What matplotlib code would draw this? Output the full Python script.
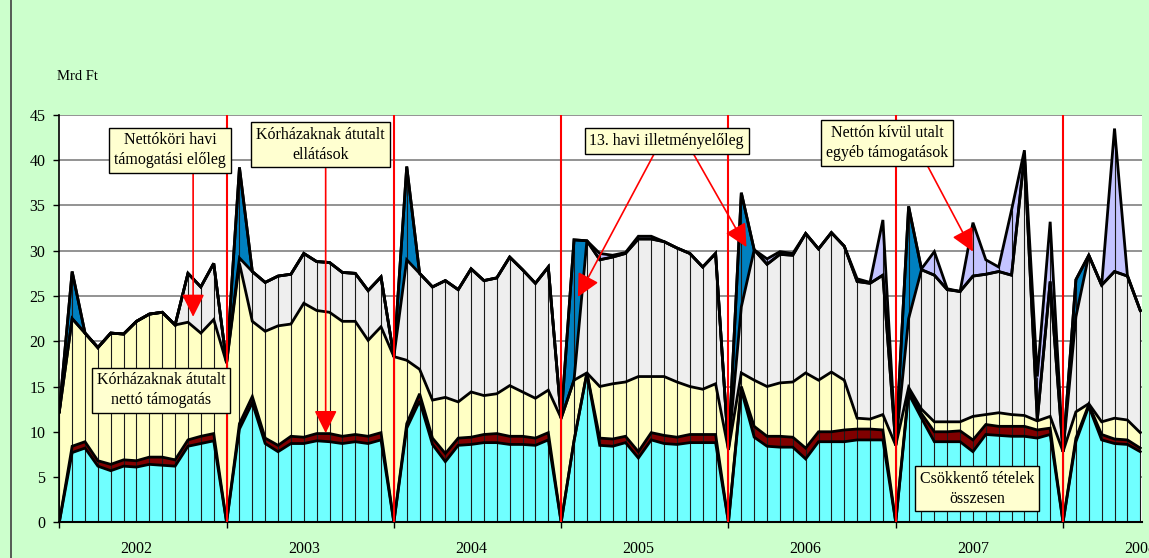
import numpy as np
import matplotlib
matplotlib.use('Agg')
from matplotlib import pyplot as plt
from matplotlib.lines import Line2D

plt.rcParams['font.family'] = ['Liberation Serif', 'DejaVu Serif']

# 13 points per year (opening point + 12 months), 2008 only partly
years = ['2002', '2003', '2004', '2005', '2006', '2007', '2008']

# Csökkentő tételek összesen
csokkento = [0, 7.7, 8.2, 6.2, 5.7, 6.2, 6.1, 6.4, 6.3, 6.2, 8.4, 8.7, 9.0,
             0, 10.3, 13.2, 8.7, 7.8, 8.7, 8.7, 9.0, 8.9, 8.7, 8.9, 8.7, 9.1,
             0, 10.4, 13.4, 8.6, 6.7, 8.5, 8.6, 8.8, 8.8, 8.6, 8.6, 8.5, 9.1,
             0, 9.0, 16.5, 8.5, 8.4, 8.8, 7.1, 9.1, 8.7, 8.6, 8.8, 8.8, 8.8,
             0, 14.6, 9.4, 8.4, 8.3, 8.3, 7.0, 8.9, 8.9, 8.9, 9.1, 9.1, 9.1,
             0, 14.2, 11.5, 8.9, 8.9, 8.9, 7.8, 9.7, 9.6, 9.5, 9.5, 9.3, 9.7,
             0, 8.9, 12.8, 9.1, 8.7, 8.6, 7.8]
# Kórházaknak átutalt ellátások
ellatasok = [0, 0.7, 0.7, 0.6, 0.7, 0.7, 0.7, 0.8, 0.9, 0.7, 0.7, 0.8, 0.8,
             0, 0.6, 0.7, 0.6, 0.7, 0.8, 0.7, 0.8, 0.9, 0.8, 0.8, 0.8, 0.8,
             0, 0.5, 0.8, 0.7, 0.9, 0.8, 0.8, 0.9, 1.0, 0.9, 0.9, 0.8, 0.8,
             0, 0, 0, 0.8, 0.8, 0.7, 0.7, 0.8, 0.9, 0.8, 0.9, 0.9, 0.9,
             0, 0.4, 1.2, 1.1, 1.2, 1.1, 1.2, 1.1, 1.1, 1.3, 1.2, 1.2, 1.1,
             0, 0.4, 0.5, 1.1, 1.1, 1.2, 1.3, 1.1, 1.0, 1.1, 1.1, 0.9, 0.7,
             0, 0.4, 0.2, 0.6, 0.5, 0.5, 0.4]
# Kórházaknak átutalt nettó támogatás
netto = [12.2, 14.1, 12.0, 12.5, 14.5, 13.9, 15.4, 15.8, 16.0, 14.9, 13.0, 11.4, 12.6,
         17.6, 17.7, 8.3, 11.8, 13.2, 12.4, 14.8, 13.6, 13.4, 12.7, 12.5, 10.6, 11.7,
         18.3, 7.0, 2.7, 4.2, 6.2, 4.0, 5.0, 4.3, 4.4, 5.6, 4.9, 4.4, 4.7,
         11.5, 6.7, 0, 5.7, 6.1, 6.0, 8.3, 6.2, 6.5, 6.1, 5.3, 5.0, 5.6,
         8.0, 1.5, 5.1, 5.5, 5.9, 6.1, 8.3, 5.7, 6.6, 5.5, 1.2, 1.1, 1.7,
         8.5, 0.3, 0.5, 1.1, 1.1, 1.0, 2.6, 1.1, 1.5, 1.3, 1.2, 1.0, 1.3,
         7.8, 2.9, 0.1, 1.4, 2.3, 2.2, 1.7]
# Nettókori havi támogatási előleg
eloleg = [0, 0, 0, 0, 0, 0, 0, 0, 0, 0, 5.4, 5.1, 6.2,
          0, 0.6, 5.5, 5.4, 5.5, 5.5, 5.5, 5.4, 5.5, 5.4, 5.3, 5.5, 5.5,
          0, 11.1, 10.6, 12.5, 12.9, 12.4, 13.6, 12.7, 12.8, 14.2, 13.5, 12.7, 13.6,
          0, 0, 14.6, 14.0, 14.0, 14.2, 15.2, 15.2, 14.9, 14.8, 14.7, 13.5, 14.4,
          0, 7.3, 14.4, 13.5, 14.2, 14.0, 15.4, 14.5, 15.4, 14.8, 15.1, 15.0, 15.4,
          0, 7.6, 15.4, 16.2, 14.6, 14.4, 15.5, 15.5, 15.6, 15.4, 28.7, 0.1, 14.9,
          0, 10.5, 16.4, 15.1, 16.2, 15.9, 13.5]
# 13. havi illetményelőleg
illetmeny13 = [0, 5.2, 0, 0, 0, 0, 0, 0, 0, 0, 0, 0, 0,
               0, 10.0, 0, 0, 0, 0, 0, 0, 0, 0, 0, 0, 0,
               0, 10.3, 0, 0, 0, 0, 0, 0, 0, 0, 0, 0, 0,
               0, 15.5, 0, 0, 0, 0, 0, 0, 0, 0, 0, 0, 0,
               0, 12.6, 0, 0, 0, 0, 0, 0, 0, 0, 0, 0, 0,
               0, 12.4, 0, 0, 0, 0, 0, 0, 0, 0, 0, 0, 0,
               0, 4.1, 0, 0, 0, 0, 0]
# Nettón kívül utalt egyéb támogatások
egyeb = [0, 0, 0, 0, 0, 0, 0, 0, 0, 0, 0, 0, 0,
         0, 0, 0, 0, 0, 0, 0, 0, 0, 0, 0, 0, 0,
         0, 0, 0, 0, 0, 0, 0, 0, 0, 0, 0, 0, 0,
         0, 0, 0, 0.7, 0.2, 0.1, 0.3, 0.3, 0, 0, 0, 0, 0,
         0, 0, 0, 0.6, 0.3, 0.2, 0, 0, 0, 0, 0.3, 0.1, 6.1,
         0, 0, 0.1, 2.6, 0.1, 0, 5.9, 1.6, 0.5, 7.2, 0.6, 4.8, 6.6,
         0, 0, 0, 0, 15.8, 0.1, 0]

layers = [csokkento, ellatasok, netto, eloleg, illetmeny13, egyeb]
colors = ['#70FFFF', '#800000', '#FFFFC4', '#EEEEEE', '#0080C0', '#C4C4FF']

x = np.arange(len(csokkento))
tops = np.cumsum(np.array(layers), axis=0)

fig = plt.figure(figsize=(11.49, 5.58), dpi=100, facecolor='#CCFFCC')
ax = fig.add_axes([0.0516, 0.064, 0.9419, 0.730])
ax.set_facecolor('white')

bottom = np.zeros(len(x))
for top, col in zip(tops, colors):
    ax.fill_between(x, bottom, top, facecolor=col, edgecolor='none', zorder=1)
    bottom = top
ax.vlines(x, 0, tops[-1], colors='#1a1a1a', lw=0.8, zorder=2)
for top in tops:
    ax.plot(x, top, color='black', lw=2.0, zorder=3, solid_joinstyle='miter')

# year boundaries
ax.vlines(np.arange(13, len(x), 13), 0, 45, colors='red', lw=1.5, zorder=4)

ax.set_xlim(0, 84.1)
ax.set_ylim(0, 45)
ax.set_yticks(range(0, 46, 5))
ax.yaxis.grid(True, color='#808080', lw=1.2)
ax.set_axisbelow(True)
ax.set_xticks(np.arange(0, len(x), 13))
ax.set_xticklabels([])
ax.tick_params(axis='both', direction='out', length=4, width=1, labelsize=11.5, pad=6)
for side in ['top', 'right']:
    ax.spines[side].set_visible(False)
ax.spines['left'].set_linewidth(1.2)
ax.spines['bottom'].set_linewidth(1.5)

for k, yr in enumerate(years):
    ax.text(13 * k + 6, -0.066, yr, transform=ax.get_xaxis_transform(),
            ha='center', va='center', fontsize=11.5, clip_on=False)

fig.text(57 / 1149, 1 - 76 / 558, 'Mrd Ft', ha='left', va='center', fontsize=10.5)
fig.add_artist(Line2D([11 / 1149, 11 / 1149], [0, 1], color='#404040', lw=1.2))

box = dict(boxstyle='square,pad=0.3', fc='#FFFFD0', ec='black', lw=1)
notes = [
    ('Nettóköri havi\ntámogatási előleg', 8.6, 41.1),
    ('Kórházaknak átutalt\nellátások', 20.3, 41.7),
    ('13. havi illetményelőleg', 47.2, 42.1),
    ('Nettón kívül utalt\negyéb támogatások', 64.35, 41.9),
    ('Kórházaknak átutalt\nnettó támogatás', 7.9, 14.6),
    ('Csökkentő tételek\nösszesen', 71.3, 3.7),
]
for txt, tx, ty in notes:
    ax.text(tx, ty, txt, ha='center', va='center', multialignment='center',
            fontsize=11.5, linespacing=1.3, bbox=box, zorder=6)

arrows = [
    ((10.4, 38.6), (10.4, 22.7)),
    ((20.7, 39.1), (20.7, 9.85)),
    ((46.3, 40.9), (40.3, 24.9)),
    ((49.2, 40.9), (53.4, 30.4)),
    ((67.5, 39.3), (71.0, 29.9)),
]
for start, tip in arrows:
    ax.annotate('', xy=tip, xytext=start, zorder=5,
                arrowprops=dict(arrowstyle='-|>,head_length=0.7,head_width=0.35',
                                color='red', lw=1.2, mutation_scale=20,
                                shrinkA=0, shrinkB=0))

fig.savefig('out.png', dpi=100, facecolor=fig.get_facecolor())
